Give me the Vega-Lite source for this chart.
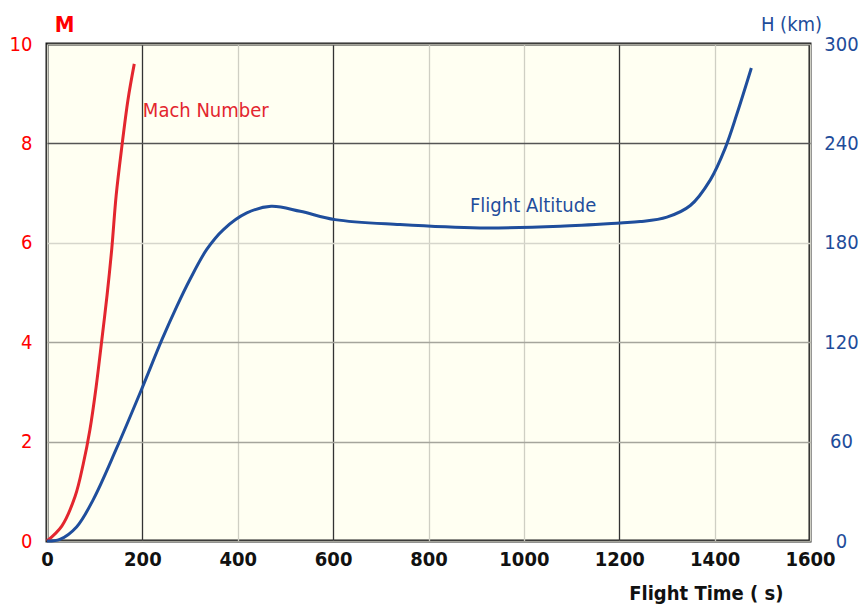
{
  "$schema": "https://vega.github.io/schema/vega-lite/v6.json",
  "width": 763,
  "height": 497,
  "autosize": {"type": "none"},
  "padding": {"left": 47, "top": 44, "right": 52, "bottom": 67},
  "background": "#ffffff",
  "config": {
    "view": {"fill": "#FFFFF2", "stroke": "#1a1a1a", "strokeWidth": 3},
    "font": "Liberation Sans Narrow, DejaVu Sans Condensed, sans-serif"
  },
  "datasets": {
    "mach": [
      {"t": 0, "M": 0},
      {"t": 31, "M": 0.3},
      {"t": 59, "M": 0.9},
      {"t": 76, "M": 1.55},
      {"t": 90, "M": 2.24},
      {"t": 103, "M": 3.1},
      {"t": 115, "M": 4.05},
      {"t": 126, "M": 4.95},
      {"t": 136, "M": 5.9},
      {"t": 145, "M": 6.95},
      {"t": 157, "M": 7.94},
      {"t": 170, "M": 8.89},
      {"t": 183, "M": 9.6}
    ],
    "alt": [
      {"t": 0, "H": 0},
      {"t": 27, "H": 1},
      {"t": 62, "H": 8.5},
      {"t": 97, "H": 25},
      {"t": 146, "H": 56},
      {"t": 199, "H": 92},
      {"t": 241, "H": 121.5},
      {"t": 272, "H": 141.5},
      {"t": 300, "H": 158},
      {"t": 335, "H": 176},
      {"t": 370, "H": 188},
      {"t": 419, "H": 198},
      {"t": 470, "H": 202},
      {"t": 531, "H": 199},
      {"t": 604, "H": 194},
      {"t": 740, "H": 191},
      {"t": 908, "H": 189},
      {"t": 1076, "H": 190},
      {"t": 1202, "H": 192},
      {"t": 1244, "H": 192.8},
      {"t": 1300, "H": 195.5},
      {"t": 1349, "H": 202.5},
      {"t": 1391, "H": 218},
      {"t": 1422, "H": 237},
      {"t": 1447, "H": 258},
      {"t": 1477, "H": 285.5}
    ],
    "machLabel": [{"t": 201, "M": 8.65, "label": "Mach Number"}],
    "altLabel": [{"t": 887, "H": 202, "label": "Flight Altitude"}]
  },
  "encoding": {
    "x": {
      "field": "t",
      "type": "quantitative",
      "scale": {"domain": [0, 1600], "nice": false},
      "axis": {
        "values": [0, 200, 400, 600, 800, 1000, 1200, 1400, 1600],
        "format": "d",
        "labelFlush": false,
        "domain": false,
        "ticks": false,
        "labelPadding": 8,
        "labelFontSize": 20,
        "labelFontWeight": "bold",
        "labelColor": "#111111",
        "gridColor": {"condition": {"test": "datum.value == 200 || datum.value == 600 || datum.value == 1200", "value": "#333333"}, "value": "#cfcfc4"},
        "gridWidth": 1.3,
        "title": "Flight Time ( s)",
        "titleFontSize": 20,
        "titleFontWeight": "bold",
        "titleColor": "#111111",
        "titleAlign": "right",
        "titleAnchor": "start",
        "titleX": 736,
        "titleY": 58,
        "titleBaseline": "alphabetic"
      }
    }
  },
  "layer": [
    {
      "encoding": {
        "y": {
          "field": "M",
          "type": "quantitative",
          "scale": {"domain": [0, 10], "nice": false},
          "axis": {
            "orient": "left",
            "values": [0, 2, 4, 6, 8, 10],
            "domain": false,
            "ticks": false,
            "labelPadding": 15,
            "labelFontSize": 20,
            "labelColor": "#FF0000",
            "gridColor": {"condition": [{"test": "datum.value == 8", "value": "#555555"}, {"test": "datum.value == 6", "value": "#d6d6cc"}], "value": "#a5a59c"},
            "gridWidth": 1.5,
            "title": "M",
            "titleAngle": 0,
            "titleFontSize": 22,
            "titleFontWeight": "bold",
            "titleColor": "#FF0000",
            "titleAlign": "center",
            "titleBaseline": "middle",
            "titleX": 17,
            "titleY": -20
          }
        }
      },
      "layer": [
        {
          "data": {"name": "mach"},
          "mark": {"type": "line", "color": "#E3262E", "strokeWidth": 3, "interpolate": "catmull-rom"}
        },
        {
          "data": {"name": "machLabel"},
          "mark": {"type": "text", "align": "left", "baseline": "middle", "fontSize": 20, "color": "#E3262E"},
          "encoding": {"text": {"field": "label"}}
        }
      ]
    },
    {
      "encoding": {
        "y": {
          "field": "H",
          "type": "quantitative",
          "scale": {"domain": [0, 300], "nice": false},
          "axis": {
            "orient": "right",
            "values": [0, 60, 120, 180, 240, 300],
            "domain": false,
            "grid": false,
            "ticks": false,
            "labelPadding": 31,
            "labelAlign": "center",
            "labelFontSize": 20,
            "labelColor": "#1E4C9A",
            "title": "H (km)",
            "titleAngle": 0,
            "titleFontSize": 20,
            "titleFontWeight": "normal",
            "titleColor": "#1E4C9A",
            "titleAlign": "center",
            "titleBaseline": "middle",
            "titleX": -19,
            "titleY": -20
          }
        }
      },
      "layer": [
        {
          "data": {"name": "alt"},
          "mark": {"type": "line", "color": "#1F4E9C", "strokeWidth": 3, "interpolate": "catmull-rom"}
        },
        {
          "data": {"name": "altLabel"},
          "mark": {"type": "text", "align": "left", "baseline": "middle", "fontSize": 20, "color": "#1F4E9C"},
          "encoding": {"text": {"field": "label"}}
        }
      ]
    }
  ],
  "resolve": {"scale": {"y": "independent"}}
}
